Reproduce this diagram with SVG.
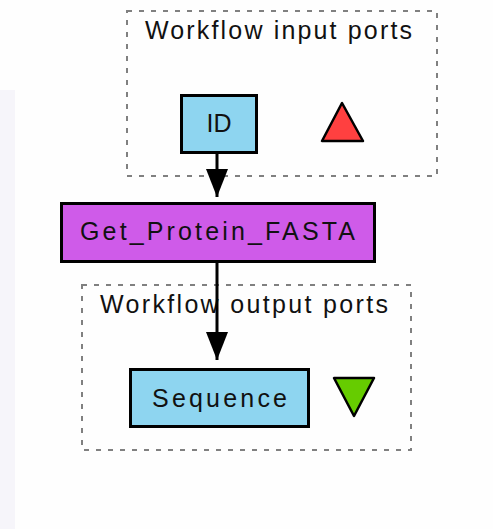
<svg xmlns="http://www.w3.org/2000/svg" width="493" height="529" viewBox="0 0 493 529">
  <style>
    .port { stroke: #000; stroke-width: 3; fill: #8ed5f0; }
    .proc { stroke: #000; stroke-width: 3; fill: #cf5be9; }
    .group { fill: none; stroke: #808080; stroke-width: 2; stroke-dasharray: 5 7; }
    .lbl { font-family: "Liberation Sans", Arial, sans-serif; font-size: 25px; fill: #111; }
    .edge { stroke: #000; stroke-width: 3; fill: none; }
  </style>
  <defs>
    <marker id="arr" viewBox="0 0 28 22" refX="28" refY="11" markerWidth="28" markerHeight="22" markerUnits="userSpaceOnUse" orient="auto">
      <path d="M0,0 L28,11 L0,22 Z" fill="#000"/>
    </marker>
  </defs>
  <rect x="0" y="0" width="493" height="529" fill="#fefefe"/>
  <rect x="0" y="90" width="15" height="439" fill="#f6f5fa"/>

  <g id="inputs">
    <rect class="group" x="127" y="11" width="310" height="165"/>
    <text class="lbl" x="145" y="39" textLength="267" lengthAdjust="spacing">Workflow input ports</text>
    <polygon points="342,103 322,141 363,141" fill="#ff4040" stroke="#000" stroke-width="2.5" stroke-linejoin="round"/>
  </g>
  <g id="outputs">
    <rect class="group" x="82" y="285" width="329" height="165"/>
    <text class="lbl" x="100" y="313" textLength="288" lengthAdjust="spacing">Workflow output ports</text>
    <polygon points="334,378 374,378 354,416" fill="#66cc00" stroke="#000" stroke-width="2.5" stroke-linejoin="round"/>
  </g>

  <g id="node-ID">
    <rect class="port" x="181.5" y="95.5" width="75" height="57"/>
    <text class="lbl" x="219" y="132" text-anchor="middle">ID</text>
  </g>
  <g id="node-Get_Protein_FASTA">
    <rect class="proc" x="61.5" y="203.5" width="313" height="58"/>
    <text class="lbl" x="80" y="240" textLength="275" lengthAdjust="spacing">Get_Protein_FASTA</text>
  </g>
  <g id="node-Sequence">
    <rect class="port" x="130.5" y="369.5" width="178" height="57"/>
    <text class="lbl" x="152" y="407" textLength="135" lengthAdjust="spacing">Sequence</text>
  </g>

  <g id="connectors">
    <line class="edge" x1="217" y1="153" x2="217" y2="197" marker-end="url(#arr)"/>
    <line class="edge" x1="217" y1="262" x2="217" y2="360" marker-end="url(#arr)"/>
  </g>
</svg>
